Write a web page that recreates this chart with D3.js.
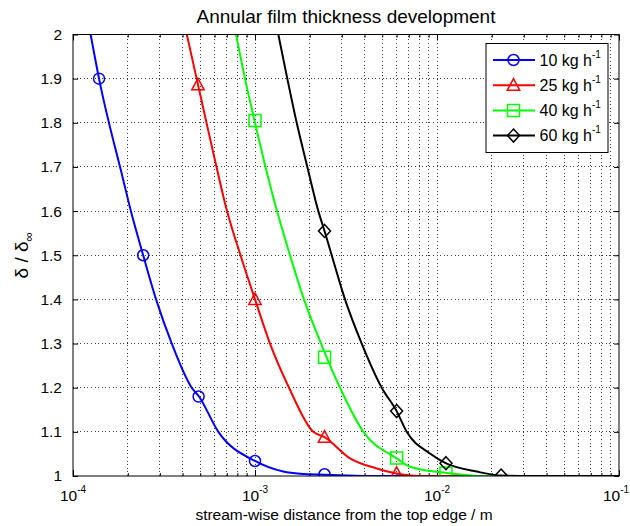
<!DOCTYPE html>
<html>
<head>
<meta charset="utf-8">
<script src="https://cdn.jsdelivr.net/npm/d3@7"></script>
<style>
  body { margin: 0; background: #fff; }
  text { font-family: "Liberation Sans", Arial, sans-serif; fill: #000; }
</style>
</head>
<body>
<div id="chart"></div>
<script>
// legend labels (superscript -1 added when drawn)
const seriesLabels = ["10 kg h", "25 kg h", "40 kg h", "60 kg h"];

// smooth curves
const curve10x = [1.25e-4, 1.39e-4, 1.89e-4, 2.08e-4, 2.43e-4, 2.86e-4, 3.49e-4, 4.49e-4, 4.92e-4, 6.29e-4, 1.0e-3, 1.43e-3, 1.77e-3, 2.41e-3, 4.86e-3, 1e-1];
const curve10y = [2.0, 1.9, 1.67, 1.6, 1.5, 1.4, 1.3, 1.2, 1.18, 1.1, 1.034, 1.01, 1.005, 1.003, 1.0, 1.0];

const curve25x = [4.22e-4, 4.78e-4, 5.415e-4, 6.145e-4, 7.02e-4, 8.325e-4, 1.0e-3, 1.209e-3, 1.538e-3, 2.09e-3, 2.41e-3, 3.33e-3, 4.66e-3, 5.9e-3, 8.07e-3, 1e-1];
const curve25y = [2.0, 1.9, 1.8, 1.7, 1.6, 1.5, 1.4, 1.3, 1.2, 1.1, 1.088, 1.04, 1.017, 1.006, 1.0, 1.0];

const curve40x = [7.86e-4, 8.81e-4, 1.0e-3, 1.142e-3, 1.321e-3, 1.557e-3, 1.858e-3, 2.305e-3, 2.931e-3, 3.94e-3, 5.95e-3, 7.11e-3, 1.131e-2, 1.835e-2, 1e-1];
const curve40y = [2.0, 1.9, 1.8, 1.7, 1.6, 1.5, 1.4, 1.3, 1.2, 1.1, 1.041, 1.021, 1.007, 1.0, 1.0];

const curve60x = [1.343e-3, 1.505e-3, 1.695e-3, 1.939e-3, 2.228e-3, 2.41e-3, 2.639e-3, 3.123e-3, 3.858e-3, 4.97e-3, 6.0e-3, 6.82e-3, 9.15e-3, 1.116e-2, 1.653e-2, 2.25e-2, 3.24e-2, 1e-1];
const curve60y = [2.0, 1.9, 1.8, 1.7, 1.6, 1.555, 1.5, 1.4, 1.3, 1.2, 1.147, 1.1, 1.051, 1.029, 1.01, 1.001, 1.0, 1.0];

// marker points
const marker10x = [1.39e-4, 2.43e-4, 4.9e-4, 1.0e-3, 2.41e-3];
const marker10y = [1.9, 1.5, 1.18, 1.034, 1.004];
const marker25x = [4.86e-4, 1.0e-3, 2.41e-3, 6.0e-3];
const marker25y = [1.886, 1.4, 1.088, 1.006];
const marker40x = [1.0e-3, 2.41e-3, 6.0e-3, 1.12e-2];
const marker40y = [1.805, 1.269, 1.041, 1.007];
const marker60x = [2.41e-3, 6.0e-3, 1.12e-2, 2.25e-2];
const marker60y = [1.555, 1.147, 1.029, 1.001];

// axis ticks
const xDecades = [-4, -3, -2, -1];
const yTicks = [1, 1.1, 1.2, 1.3, 1.4, 1.5, 1.6, 1.7, 1.8, 1.9, 2];

const width = 630, height = 526;
const margin = {top: 34.5, right: 11, bottom: 50, left: 73};
const plotW = width - margin.left - margin.right;
const plotH = height - margin.top - margin.bottom;

const colors = ["#0000ff", "#ff0000", "#00ff00", "#000000"];
const shapes = ["circle", "triangle", "square", "diamond"];

const zip = (xs, ys) => xs.map((v, i) => ({x: v, y: ys[i]}));
const series = [
  {curve: zip(curve10x, curve10y), marks: zip(marker10x, marker10y)},
  {curve: zip(curve25x, curve25y), marks: zip(marker25x, marker25y)},
  {curve: zip(curve40x, curve40y), marks: zip(marker40x, marker40y)},
  {curve: zip(curve60x, curve60y), marks: zip(marker60x, marker60y)}
];
series.forEach((s, i) => { s.color = colors[i]; s.shape = shapes[i]; s.label = seriesLabels[i]; });

let x = d3.scaleLog()
  .domain([1e-4, 1e-1])
  .range([margin.left, margin.left + plotW]);

let y = d3.scaleLinear()
  .domain([1, 2])
  .range([margin.top + plotH, margin.top]);

const svg = d3.select("#chart").append("svg")
  .attr("width", width)
  .attr("height", height);

svg.append("rect").attr("width", width).attr("height", height).attr("fill", "#fff");

// minor/major x positions
let xAll = [];
xDecades.slice(0, -1).forEach(e => {
  for (let k = 1; k <= 9; k++) xAll.push(k * Math.pow(10, e));
});
xAll.push(1e-1);
const xMinor = xAll.filter(v => !xDecades.some(e => Math.abs(Math.log10(v) - e) < 1e-9));
const xMajor = xDecades.map(e => Math.pow(10, e));

// grid
const grid = svg.append("g").attr("class", "grid")
  .attr("stroke", "#3a3a3a")
  .attr("stroke-width", 1)
  .attr("stroke-dasharray", "1,2.6")
  .attr("shape-rendering", "crispEdges");

grid.selectAll("line.gx")
  .data(xAll.filter(v => v > 1e-4 && v < 1e-1))
  .join("line")
    .attr("class", "gx")
    .attr("x1", d => x(d)).attr("x2", d => x(d))
    .attr("y1", y(1)).attr("y2", y(2));

grid.selectAll("line.gy")
  .data(yTicks.slice(1, -1))
  .join("line")
    .attr("class", "gy")
    .attr("x1", x(1e-4)).attr("x2", x(1e-1))
    .attr("y1", d => y(d)).attr("y2", d => y(d));

// ticks (inward, all four sides)
function noDomain(g) { g.select(".domain").remove(); g.selectAll("text").remove(); }
svg.append("g").attr("transform", `translate(0,${y(1)})`)
  .call(d3.axisBottom(x).tickValues(xMajor).tickSize(-6).tickFormat("")).call(noDomain);
svg.append("g").attr("transform", `translate(0,${y(1)})`)
  .call(d3.axisBottom(x).tickValues(xMinor).tickSize(-3).tickFormat("")).call(noDomain);
svg.append("g").attr("transform", `translate(0,${y(2)})`)
  .call(d3.axisTop(x).tickValues(xMajor).tickSize(-6).tickFormat("")).call(noDomain);
svg.append("g").attr("transform", `translate(0,${y(2)})`)
  .call(d3.axisTop(x).tickValues(xMinor).tickSize(-3).tickFormat("")).call(noDomain);
svg.append("g").attr("transform", `translate(${x(1e-1)},0)`)
  .call(d3.axisRight(y).tickValues(yTicks).tickSize(-5).tickFormat("")).call(noDomain);

// left axis with labels
let yAxis = g => g
  .attr("transform", `translate(${x(1e-4)},0)`)
  .call(d3.axisLeft(y).tickValues(yTicks).tickSize(-5).tickPadding(11)
    .tickFormat(d => String(+d.toFixed(1))))
  .call(g => g.select(".domain").remove())
  .call(g => g.selectAll("text").attr("font-size", 15.5).attr("fill", "#000")
    .attr("font-family", "'Liberation Sans', Arial, sans-serif"));
svg.append("g").call(yAxis);

// x decade labels 10^n (last one nudged in so it stays on the page)
const xl = svg.append("g").selectAll("text")
  .data(xDecades)
  .join("text")
    .attr("x", d => Math.min(x(Math.pow(10, d)), width - 14))
    .attr("y", 501)
    .attr("text-anchor", "middle")
    .attr("font-size", 15.5);
xl.append("tspan").text("10");
xl.append("tspan").attr("font-size", 10).attr("dy", -8).text(d => String(d));

// clipped data layer
svg.append("clipPath").attr("id", "clip")
  .append("rect")
    .attr("x", margin.left).attr("y", margin.top)
    .attr("width", plotW).attr("height", plotH);

const line = d3.line()
  .x(d => x(d.x))
  .y(d => y(d.y))
  .curve(d3.curveMonotoneX);

const data = svg.append("g").attr("clip-path", "url(#clip)");

data.selectAll("path.curve")
  .data(series)
  .join("path")
    .attr("class", "curve")
    .attr("fill", "none")
    .attr("stroke", d => d.color)
    .attr("stroke-width", 2)
    .attr("d", d => line(d.curve));

function markerPath(shape) {
  if (shape == "circle") return d3.symbol(d3.symbolCircle, 95)();
  if (shape == "triangle") return "M0,-6.5L6.2,5L-6.2,5Z";
  if (shape == "square") return "M-6,-6H6V6H-6Z";
  return "M0,-6.5L6,0L0,6.5L-6,0Z";
}

series.forEach(s => {
  data.append("g").selectAll("path")
    .data(s.marks)
    .join("path")
      .attr("transform", d => `translate(${x(d.x)},${y(d.y)})`)
      .attr("d", markerPath(s.shape))
      .attr("fill", "none")
      .attr("stroke", s.color)
      .attr("stroke-width", 1.5);
});

// axes box
svg.append("rect")
  .attr("x", margin.left).attr("y", margin.top)
  .attr("width", plotW).attr("height", plotH)
  .attr("fill", "none")
  .attr("stroke", "#000")
  .attr("stroke-width", 1);

// title & axis labels
svg.append("text")
  .attr("x", margin.left + plotW / 2).attr("y", 22.5)
  .attr("text-anchor", "middle")
  .attr("font-size", 19)
  .text("Annular film thickness development");

svg.append("text")
  .attr("x", margin.left + plotW / 2 - 2).attr("y", 520)
  .attr("text-anchor", "middle")
  .attr("font-size", 15.5)
  .text("stream-wise distance from the top edge / m");

const yl = svg.append("text")
  .attr("transform", `translate(28,${margin.top + plotH / 2}) rotate(-90)`)
  .attr("text-anchor", "middle")
  .attr("font-size", 19);
yl.append("tspan").text("δ / δ");
yl.append("tspan").attr("font-size", 13).attr("dy", 5).text("∞");

// legend
const legend = svg.append("g");
legend.append("rect")
  .attr("x", 486).attr("y", 43.5)
  .attr("width", 122).attr("height", 109)
  .attr("fill", "#fff")
  .attr("stroke", "#000")
  .attr("stroke-width", 1);

const rows = legend.selectAll("g.row")
  .data(series)
  .join("g")
    .attr("class", "row")
    .attr("transform", (d, i) => `translate(0,${60 + i * 25.2})`);

rows.append("line")
  .attr("x1", 493).attr("x2", 535)
  .attr("stroke", d => d.color)
  .attr("stroke-width", 2);
rows.append("path")
  .attr("transform", "translate(513.5,0)")
  .attr("d", d => markerPath(d.shape))
  .attr("fill", "none")
  .attr("stroke", d => d.color)
  .attr("stroke-width", 1.5);
const lt = rows.append("text")
  .attr("x", 539.5).attr("y", 5.5)
  .attr("font-size", 16);
lt.append("tspan").text(d => d.label);
lt.append("tspan").attr("font-size", 10).attr("dy", -8).text("-1");
</script>
</body>
</html>
